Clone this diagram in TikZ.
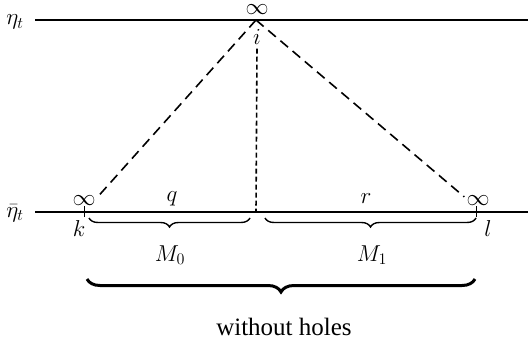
\RequirePackage{fix-cm}
\documentclass[tikz,border=0pt]{standalone}
\usepackage{fontspec}
\setmainfont{Liberation Serif}
\usepackage{tikz}
\usetikzlibrary{decorations.pathreplacing,positioning}
\tikzset{
  level/.style={line width=1.3pt},
  ray/.style={dash pattern=on 10pt off 6pt,line width=1.6pt},
  plumb/.style={dash pattern=on 5pt off 3pt,line width=1.6pt},
  tickmark/.style={line width=1pt},
  brace/.style={decorate,decoration={brace,mirror,amplitude=#1},line width=1.4pt},
  brace/.default=9pt,
  bigbrace/.style={decorate,decoration={brace,mirror,amplitude=13pt},line width=3pt},
  every node/.style={font=\fontsize{23}{26}\selectfont,inner sep=0pt}
}
\begin{document}
\begin{tikzpicture}[x=1pt,y=-1pt]
\useasboundingbox (0,0) rectangle (528,345);
% the two levels
\coordinate (topL) at (35,20);
\coordinate (topR) at (528,20);
\coordinate (botL) at (35,212);
\coordinate (botR) at (528,212);
\draw[level] (topL) -- (topR);
\draw[level] (botL) -- (botR);
\node (eta) at (15,22) {$\eta_t$};
\node (etabar) at (15,213) {$\bar\eta_t$};
% apex i
\coordinate (i) at (256,20);
\node (infi) at (257,10) {$\infty$};
\node (ilbl) at (257,37) {$i$};
\coordinate (foot) at (256,212);
% end points k and l
\coordinate (k) at (84,212);
\coordinate (l) at (476,212);
\node (infk) at (84,201) {$\infty$};
\node (infl) at (478,201) {$\infty$};
\node (klbl) at (79,229) {$k$};
\node (llbl) at (488,229) {$l$};
\draw[tickmark] ([yshift=-5pt]k) -- ([yshift=6pt]k);
\draw[tickmark] ([yshift=-5pt]l) -- ([yshift=6pt]l);
% dashed rays
\draw[ray] (i) -- ([shift={(2,1)}]infk.north east);
\draw[ray] (i) -- ([shift={(-2,1)}]infl.north west);
\draw[plumb] ([yshift=-4pt]ilbl.south) -- (foot);
\node (q) at (172,199) {$q$};
\node (r) at (366,199) {$r$};
% braces
\coordinate (m0a) at (89,218);
\coordinate (m0b) at (250,218);
\coordinate (m1a) at (265,218);
\coordinate (m1b) at (476,218);
\draw[brace] (m0a) -- (m0b);
\draw[brace] (m1a) -- (m1b);
\node (M0) at (170,255) {$M_0$};
\node (M1) at (372,255) {$M_1$};
\coordinate (alla) at (87,279);
\coordinate (allb) at (475,279);
\draw[bigbrace] (alla) -- (allb);
\node[font=\fontsize{25}{28}\selectfont] (holes) at (284,327) {without holes};
\end{tikzpicture}
\end{document}
